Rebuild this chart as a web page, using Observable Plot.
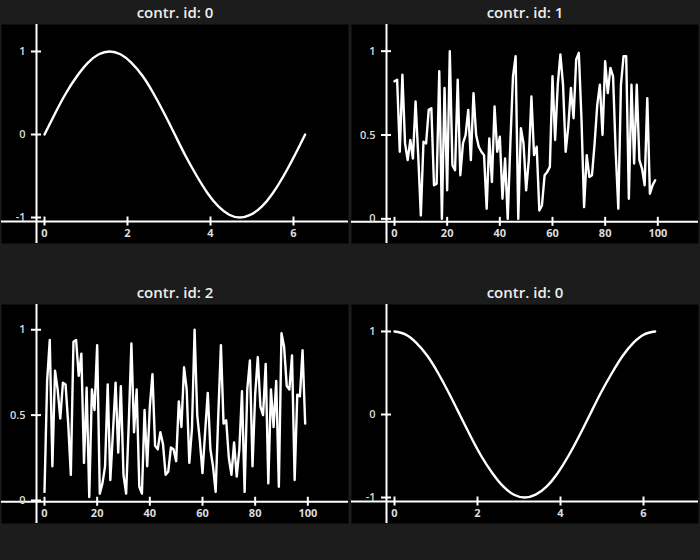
<!DOCTYPE html>
<html>
<head>
<meta charset="utf-8">
<script src="https://cdn.jsdelivr.net/npm/d3@7"></script>
<script src="https://cdn.jsdelivr.net/npm/@observablehq/plot@0.6"></script>
<style>
  html, body { margin: 0; padding: 0; }
  body { background: #1c1c1c; width: 700px; height: 560px; overflow: hidden; font-family: "Open Sans", "Noto Sans", sans-serif; }
  #grid { display: grid; grid-template-columns: 350px 350px; grid-template-rows: 280px 280px; }
  .cell { width: 350px; height: 280px; }
  .title { height: 24px; line-height: 25px; text-align: center; color: #eeeeee; font-size: 15px; font-weight: 600; }
  .cell svg { display: block; }
</style>
</head>
<body>
<div id="grid"></div>
<script>
// ---------- data ----------
const panelTitles = ["contr. id: 0", "contr. id: 1", "contr. id: 2", "contr. id: 0"];

// wave samples (x in radians)
const waveX = [0, 0.26, 0.52, 0.79, 1.05, 1.31, 1.57, 1.83, 2.09, 2.36, 2.62, 2.88, 3.14,
               3.40, 3.67, 3.93, 4.19, 4.45, 4.71, 4.97, 5.24, 5.50, 5.76, 6.02, 6.28];
const sineY = [0, 0.259, 0.5, 0.707, 0.866, 0.966, 1, 0.966, 0.866, 0.707, 0.5, 0.259, 0,
               -0.259, -0.5, -0.707, -0.866, -0.966, -1, -0.966, -0.866, -0.707, -0.5, -0.259, 0];
const cosineY = [1, 0.966, 0.866, 0.707, 0.5, 0.259, 0, -0.259, -0.5, -0.707, -0.866, -0.966, -1,
                 -0.966, -0.866, -0.707, -0.5, -0.259, 0, 0.259, 0.5, 0.707, 0.866, 0.966, 1];

// noise series (index 0..99)
const noise1 = [
  0.82, 0.83, 0.40, 0.86, 0.45, 0.35, 0.47, 0.36, 0.70, 0.38,
  0.02, 0.46, 0.45, 0.65, 0.66, 0.20, 0.21, 0.88, 0.00, 0.78,
  0.17, 1.00, 0.32, 0.29, 0.83, 0.26, 0.45, 0.50, 0.65, 0.35,
  0.75, 0.50, 0.43, 0.40, 0.38, 0.06, 0.48, 0.22, 0.67, 0.40,
  0.49, 0.12, 0.36, 0.00, 0.45, 0.85, 0.97, 0.00, 0.54, 0.45,
  0.17, 0.35, 0.73, 0.38, 0.43, 0.05, 0.08, 0.26, 0.28, 0.31,
  0.85, 0.47, 0.80, 0.98, 0.80, 0.40, 0.55, 0.78, 0.60, 0.95,
  0.99, 0.60, 0.07, 0.38, 0.25, 0.26, 0.45, 0.68, 0.80, 0.50,
  0.94, 0.75, 0.90, 0.85, 0.40, 0.06, 0.80, 0.97, 0.97, 0.12,
  0.80, 0.33, 0.80, 0.35, 0.30, 0.20, 0.72, 0.15, 0.20, 0.23
];
const noise2 = [
  0.05, 0.70, 0.94, 0.20, 0.76, 0.65, 0.48, 0.69, 0.68, 0.45,
  0.15, 0.93, 0.94, 0.73, 0.86, 0.22, 0.66, 0.02, 0.65, 0.53,
  0.91, 0.04, 0.10, 0.20, 0.68, 0.12, 0.40, 0.69, 0.28, 0.67,
  0.15, 0.04, 0.45, 0.92, 0.40, 0.65, 0.08, 0.04, 0.53, 0.20,
  0.55, 0.74, 0.32, 0.30, 0.40, 0.33, 0.15, 0.17, 0.31, 0.30,
  0.23, 0.58, 0.43, 0.78, 0.65, 0.22, 0.42, 1.00, 0.50, 0.35,
  0.16, 0.40, 0.63, 0.30, 0.20, 0.05, 0.50, 0.91, 0.45, 0.47,
  0.25, 0.15, 0.34, 0.14, 0.30, 0.64, 0.05, 0.65, 0.82, 0.20,
  0.62, 0.84, 0.55, 0.50, 0.80, 0.10, 0.65, 0.43, 0.70, 0.08,
  0.98, 0.90, 0.67, 0.65, 0.85, 0.12, 0.62, 0.61, 0.88, 0.45
];
const noiseX = d3.range(noise1.length);

// tick values and labels
const waveXTicks = [0, 2, 4, 6];
const waveXLabels = ["0", "2", "4", "6"];
const waveYTicks = [-1, 0, 1];
const waveYLabels = ["-1", "0", "1"];
const noiseXTicks = [0, 20, 40, 60, 80, 100];
const noiseXLabels = ["0", "20", "40", "60", "80", "100"];
const noiseYTicks = [0, 0.5, 1];
const noiseYLabels = ["0", "0.5", "1"];

// ---------- panels ----------
const panels = [
  { title: panelTitles[0], xs: waveX, ys: sineY, curve: "natural",
    xDomain: [-1.036, 7.325], yDomain: [-1.313, 1.325], axisDy: 4,
    xTicks: waveXTicks, xLabels: waveXLabels, yTicks: waveYTicks, yLabels: waveYLabels },
  { title: panelTitles[1], xs: noiseX, ys: noise1, curve: "linear",
    xDomain: [-16.33, 115.45], yDomain: [-0.147, 1.159], axisDy: 3,
    xTicks: noiseXTicks, xLabels: noiseXLabels, yTicks: noiseYTicks, yLabels: noiseYLabels },
  { title: panelTitles[2], xs: noiseX, ys: noise2, curve: "linear",
    xDomain: [-16.33, 115.45], yDomain: [-0.135, 1.148], axisDy: 1.3,
    xTicks: noiseXTicks, xLabels: noiseXLabels, yTicks: noiseYTicks, yLabels: noiseYLabels },
  { title: panelTitles[3], xs: waveX, ys: cosineY, curve: "natural",
    xDomain: [-1.036, 7.325], yDomain: [-1.313, 1.325], axisDy: 4,
    xTicks: waveXTicks, xLabels: waveXLabels, yTicks: waveYTicks, yLabels: waveYLabels }
];

const grid = document.getElementById("grid");
const fg = "#ffffff";
const labelColor = "#dddddd";

for (const p of panels) {
  const cell = document.createElement("div");
  cell.className = "cell";
  const t = document.createElement("div");
  t.className = "title";
  t.textContent = p.title;
  cell.appendChild(t);

  const base = p.yTicks[0];
  const x0 = p.xTicks[0];
  const data = p.xs.map((x, i) => ({ x, y: p.ys[i] }));

  const chart = Plot.plot({
    width: 350,
    height: 256,
    marginLeft: 1,
    marginRight: 2,
    marginTop: 0,
    marginBottom: 37,
    x: { domain: p.xDomain, axis: null },
    y: { domain: p.yDomain, axis: null },
    style: { background: "transparent", overflow: "visible", fontFamily: "'Open Sans', 'Noto Sans', sans-serif" },
    marks: [
      Plot.frame({ fill: "black", stroke: null }),
      // axis lines
      Plot.ruleY([base], { stroke: fg, strokeWidth: 2, dy: p.axisDy }),
      Plot.ruleX([x0], { stroke: fg, strokeWidth: 2, dx: -8 }),
      // tick marks (centred on the x axis line)
      Plot.ruleX(p.xTicks, { x: d => d, y1: base, y2: base, insetTop: -4.5, insetBottom: -4.5, dy: p.axisDy, stroke: fg, strokeWidth: 2 }),
      Plot.ruleY(p.yTicks, { y: d => d, x1: x0, x2: x0, insetLeft: -13, insetRight: 3, stroke: fg, strokeWidth: 2 }),
      // tick labels
      Plot.text(p.xTicks, { x: d => d, text: (d, i) => p.xLabels[i], frameAnchor: "bottom", dy: -7, fill: labelColor, fontSize: 11, fontWeight: 700 }),
      Plot.text(p.yTicks, { y: d => d, text: (d, i) => p.yLabels[i], frameAnchor: "left", textAnchor: "end", dx: 24, fill: labelColor, fontSize: 11, fontWeight: 600 }),
      // data line
      Plot.line(data, { x: "x", y: "y", curve: p.curve, stroke: fg, strokeWidth: 2.4, strokeLinejoin: "round" })
    ]
  });
  cell.appendChild(chart);
  grid.appendChild(cell);
}
</script>
</body>
</html>
